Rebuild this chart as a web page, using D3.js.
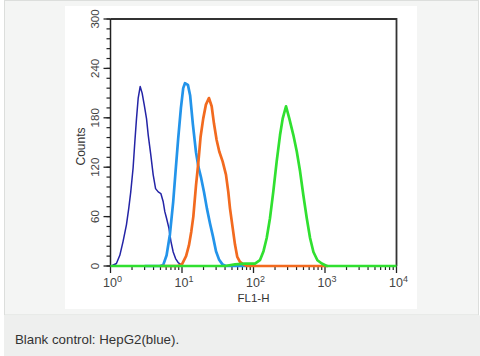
<!DOCTYPE html>
<html><head><meta charset="utf-8">
<script src="https://cdn.jsdelivr.net/npm/d3@7"></script>
<style>
html,body{margin:0;padding:0;background:#fff;}
svg{display:block;}
text{font-family:"Liberation Sans",Arial,Helvetica,sans-serif;}
</style></head>
<body>
<svg id="c" width="480" height="356"></svg>
<script>
// ---- data (FL1-H value, counts) ----
const xTickValues = [1, 10, 100, 1000, 10000];
const xTickExponents = ["0", "1", "2", "3", "4"];
const yTickValues = [0, 60, 120, 180, 240, 300];
const xLabel = "FL1-H";
const yLabel = "Counts";
const caption = "Blank control: HepG2(blue).";

const navyX = [1.0, 1.03, 1.21, 1.35, 1.50, 1.67, 1.80, 1.92, 2.07, 2.19, 2.31, 2.44, 2.60, 2.77, 2.96, 3.19, 3.37, 3.66, 3.95, 4.27, 4.65, 5.06, 5.46, 5.75, 6.08, 6.56, 7.00, 7.53, 8.13, 8.85, 9.86, 10.5];
const navyY = [0, 0, 3, 13, 30, 50, 70, 90, 119, 151, 179, 204, 218, 210, 196, 179, 159, 135, 111, 94, 90, 88, 78, 66, 58, 46, 30, 17, 9, 4, 1, 0];

const cyanX = [3.0, 4.90, 5.45, 6.09, 6.77, 7.53, 8.13, 8.85, 9.66, 10.4, 11.0, 12.1, 13.0, 14.2, 15.7, 17.0, 18.4, 20.3, 22.3, 24.6, 27.1, 29.9, 32.9, 36.8, 41.2, 80];
const cyanY = [0, 0, 1, 13, 38, 78, 115, 155, 192, 216, 222, 220, 207, 172, 138, 120, 108, 90, 70, 52, 36, 18, 8, 2, 0, 0];

const orangeX = [5.0, 8.76, 9.98, 11.4, 12.5, 13.5, 14.4, 15.7, 16.9, 18.2, 19.8, 21.6, 23.8, 26.0, 28.0, 30.5, 33.2, 37.0, 41.2, 44.4, 46.9, 51.2, 55.1, 59.3, 64.7, 71.9, 81.1, 1100];
const orangeY = [0, 0, 2, 12, 25, 42, 60, 98, 125, 157, 179, 196, 204, 194, 173, 153, 139, 127, 111, 90, 70, 46, 26, 11, 5, 2, 0, 0];

const greenX = [1.0, 40, 55.1, 76.0, 105, 123, 138, 153, 170, 189, 211, 235, 256, 285, 317, 361, 403, 448, 498, 556, 618, 689, 783, 902, 1060, 10000];
const greenY = [0, 0, 2, 3, 3, 7, 18, 34, 58, 90, 127, 159, 179, 194, 179, 159, 139, 115, 86, 58, 34, 17, 7, 3, 0, 0];

const series = [
  {name: "blank", xs: navyX, ys: navyY, color: "#2424a6", width: 1.5},
  {name: "s1", xs: cyanX, ys: cyanY, color: "#2394ea", width: 2.7},
  {name: "s2", xs: orangeX, ys: orangeY, color: "#f26a1f", width: 2.7},
  {name: "s3", xs: greenX, ys: greenY, color: "#30e030", width: 2.7}
];

// ---- layout ----
const svg = d3.select("#c");
svg.append("rect").attr("x", 4.5).attr("y", 0.5).attr("width", 474).attr("height", 314.5)
  .attr("fill", "#f4f5f4").attr("stroke", "#dcdedc");
svg.append("rect").attr("x", 4).attr("y", 315.5).attr("width", 476).attr("height", 40.5)
  .attr("fill", "#eeefee");
svg.append("text").attr("x", 15).attr("y", 344).attr("font-size", 13.3).attr("fill", "#333")
  .text(caption);
svg.append("rect").attr("x", 65).attr("y", 6).attr("width", 352).attr("height", 303).attr("fill", "#fff");

const x = d3.scaleLog().domain([1, 10000]).range([110.5, 396.5]);
const y = d3.scaleLinear().domain([0, 300]).range([266, 19]);

const g = svg.append("g");

// frame top & right
g.append("path")
  .attr("d", `M${x(1)},${y(300)}H${x(10000)}V${y(0)}`)
  .attr("fill", "none").attr("stroke", "#333").attr("stroke-width", 1.8);

// y ticks
const yMinor = d3.range(0, 301, 12);
g.selectAll(".ymin").data(yMinor).join("line")
  .attr("x1", x(1) - 4).attr("x2", x(1)).attr("y1", d => y(d)).attr("y2", d => y(d))
  .attr("stroke", "#222").attr("stroke-width", 1.2);
g.selectAll(".ymaj").data(yTickValues).join("line")
  .attr("x1", x(1) - 7).attr("x2", x(1)).attr("y1", d => y(d)).attr("y2", d => y(d))
  .attr("stroke", "#222").attr("stroke-width", 1.3);
g.selectAll(".ylab").data(yTickValues).join("text")
  .attr("transform", d => `translate(${x(1) - 12},${y(d)}) rotate(-90)`)
  .attr("text-anchor", "middle").attr("font-size", 11.5).attr("fill", "#444")
  .text(d => d);
g.append("text").attr("transform", `translate(85,${(y(0) + y(300)) / 2 + 4}) rotate(-90)`)
  .attr("text-anchor", "middle").attr("font-size", 12).attr("fill", "#333").text(yLabel);

// x ticks
const xMinor = [];
[1, 10, 100, 1000].forEach(d => { for (let k = 2; k <= 9; k++) xMinor.push(d * k); });
g.selectAll(".xmin").data(xMinor).join("line")
  .attr("x1", d => x(d)).attr("x2", d => x(d)).attr("y1", y(0)).attr("y2", y(0) + 4)
  .attr("stroke", "#222").attr("stroke-width", 1.2);
g.selectAll(".xmaj").data(xTickValues).join("line")
  .attr("x1", d => x(d)).attr("x2", d => x(d)).attr("y1", y(0)).attr("y2", y(0) + 7)
  .attr("stroke", "#222").attr("stroke-width", 1.3);
const xl = g.selectAll(".xlab").data(xTickValues).join("text")
  .attr("x", d => x(d) + 2).attr("y", 287).attr("text-anchor", "middle")
  .attr("font-size", 12.5).attr("fill", "#444");
xl.append("tspan").text("10");
xl.append("tspan").attr("dy", -5.5).attr("font-size", 9).text((d, i) => xTickExponents[i]);
g.append("text").attr("x", (x(1) + x(10000)) / 2).attr("y", 302).attr("text-anchor", "middle")
  .attr("font-size", 11.5).attr("fill", "#333").text(xLabel);

// axis lines
g.append("path").attr("d", `M${x(1)},${y(300)}V${y(0)}H${x(10000)}`)
  .attr("fill", "none").attr("stroke", "#222").attr("stroke-width", 1.5);

// series lines
const line = d3.line().x(d => x(d[0])).y(d => y(d[1]));
series.forEach(s => {
  const pts = s.xs.map((v, i) => [v, s.ys[i]]);
  g.append("path").attr("d", line(pts)).attr("fill", "none")
    .attr("stroke", s.color).attr("stroke-width", s.width).attr("stroke-linejoin", "round");
});
</script>
</body></html>
